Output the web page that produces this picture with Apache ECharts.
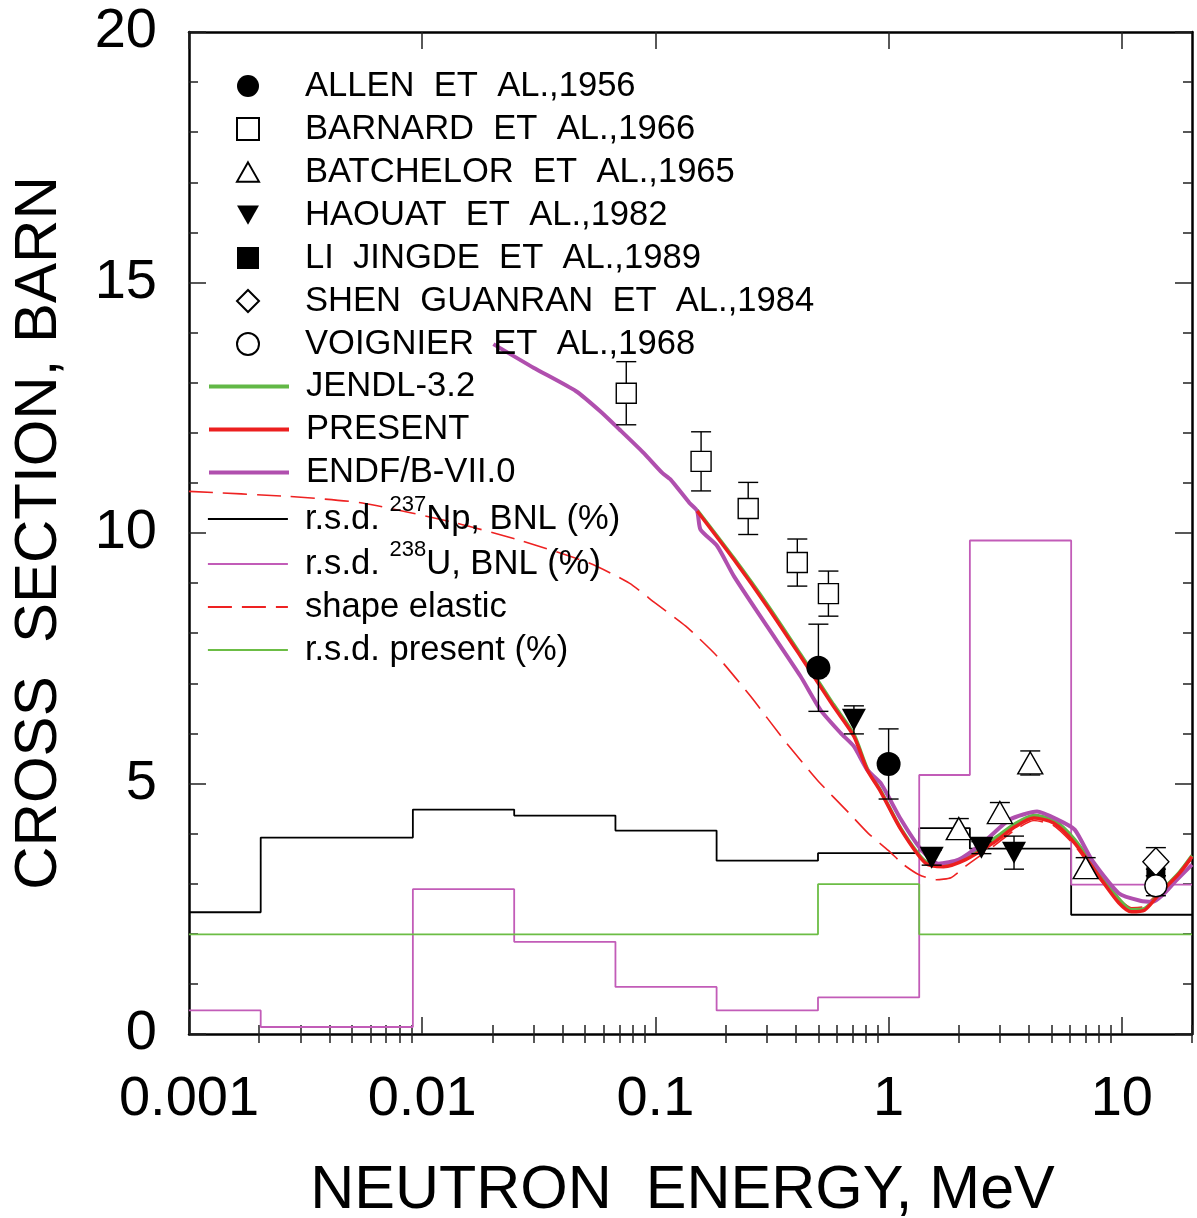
<!DOCTYPE html>
<html><head><meta charset="utf-8">
<script src="https://cdn.jsdelivr.net/npm/echarts@6/dist/echarts.min.js"></script>
<style>html,body{margin:0;padding:0;background:#fff}#c{width:1197px;height:1218px}</style>
</head><body><div id="c"></div>
<script>
// ---------- data ----------
const groupBounds = [0.001, 0.00203, 0.00912, 0.0248, 0.0674, 0.183, 0.498, 1.353, 2.231, 6.065, 20];
const rsdNp      = [2.43, 3.92, 4.48, 4.36, 4.06, 3.46, 3.61, 4.11, 3.70, 2.38];
const rsdU       = [0.47, 0.14, 2.89, 1.84, 0.94, 0.47, 0.73, 5.17, 9.85, 2.98];
const rsdPresent = [1.99, 1.99, 1.99, 1.99, 1.99, 1.99, 2.99, 1.99, 1.99, 1.99];

const endfE = [0.0202, 0.03, 0.0457, 0.058, 0.07, 0.089, 0.107, 0.116, 0.14, 0.151, 0.156, 0.184, 0.217, 0.301, 0.419, 0.51, 0.622, 0.71, 0.81, 0.924, 1.13, 1.38, 1.64, 2.0, 2.53, 3.31, 4.33, 5.3, 6.28, 7.43, 9.7, 12.0, 13.6, 15.0, 17.0, 20];
const endfV = [13.77, 13.3, 12.83, 12.43, 12.07, 11.6, 11.2, 11.07, 10.6, 10.44, 10.07, 9.74, 9.14, 8.14, 7.14, 6.47, 6.01, 5.74, 5.27, 5.01, 4.28, 3.68, 3.40, 3.48, 3.81, 4.28, 4.44, 4.28, 4.08, 3.48, 2.81, 2.66, 2.64, 2.78, 3.05, 3.38];

const presentE = [0.151, 0.217, 0.301, 0.419, 0.58, 0.71, 0.81, 0.924, 1.13, 1.44, 1.72, 2.14, 2.8, 3.5, 4.2, 5.1, 6.28, 8.0, 9.7, 11.0, 12.5, 14.5, 17.6, 20];
const presentV = [10.44, 9.47, 8.54, 7.54, 6.54, 5.94, 5.27, 4.84, 4.08, 3.41, 3.34, 3.48, 3.81, 4.14, 4.31, 4.21, 3.81, 3.14, 2.62, 2.44, 2.47, 2.8, 3.2, 3.54];

const jendlE = [0.151, 0.217, 0.301, 0.419, 0.58, 0.71, 0.81, 0.924, 1.13, 1.44, 1.72, 2.14, 2.8, 3.5, 4.2, 5.1, 6.28, 8.0, 9.7, 11.0, 12.5, 14.5, 17.6, 20];
const jendlV = [10.46, 9.5, 8.58, 7.58, 6.58, 5.98, 5.3, 4.86, 4.1, 3.44, 3.38, 3.53, 3.88, 4.2, 4.36, 4.27, 3.88, 3.2, 2.7, 2.48, 2.5, 2.82, 3.22, 3.56];

const shapeE = [0.001, 0.00268, 0.00554, 0.01396, 0.0269, 0.052, 0.0773, 0.1, 0.135, 0.184, 0.256, 0.356, 0.494, 0.68, 0.82, 1.0, 1.16, 1.35, 1.6, 1.85, 2.14, 2.8, 3.5, 4.2, 5.1, 6.28, 8.0, 9.7, 11.0, 12.5, 14.5, 17.6, 20];
const shapeV = [10.83, 10.73, 10.6, 10.2, 9.84, 9.4, 9.0, 8.6, 8.14, 7.54, 6.74, 5.87, 5.07, 4.4, 4.0, 3.66, 3.38, 3.18, 3.08, 3.12, 3.35, 3.74, 4.08, 4.26, 4.16, 3.76, 3.1, 2.7, 2.52, 2.55, 2.85, 3.2, 3.5];

const allenE = [0.5, 1.0];            const allenV = [7.31, 5.39];            const allenErr = [0.87, 0.70];
const barnardE = [0.075, 0.157, 0.25, 0.406, 0.552];
const barnardV = [12.79, 11.43, 10.49, 9.41, 8.79];
const barnardErr = [0.63, 0.59, 0.52, 0.47, 0.45];
const batchelorE = [2.0, 3.0, 4.05, 7.0];  const batchelorV = [4.1, 4.42, 5.41, 3.32];  const batchelorErr = [0.2, 0.2, 0.24, 0.2];
const haouatE = [0.71, 1.53, 2.5, 3.45];   const haouatV = [6.27, 3.52, 3.72, 3.62];   const haouatErr = [0.28, 0.15, 0.12, 0.33];
const liE = [14.0];   const liV = [3.14];   const liErr = [0.15];
const shenE = [14.0]; const shenV = [3.44]; const shenErr = [0.28];
const voigE = [14.0]; const voigV = [2.96]; const voigErr = [0.2];

const majorTicks = [0.001, 0.01, 0.1, 1, 10];
const majorLabels = ['0.001', '0.01', '0.1', '1', '10'];
const minorTicks = [];
[0.001, 0.01, 0.1, 1, 10].forEach(d => { for (let m = 2; m <= 9; m++) { const v = +(m * d).toPrecision(6); if (v <= 20) minorTicks.push(v); } });

const NAME_NP = 'r.s.d. 237Np, BNL (%)';
const NAME_U = 'r.s.d. 238U, BNL (%)';
const N_ALLEN = 'ALLEN  ET  AL.,1956', N_BARN = 'BARNARD  ET  AL.,1966', N_BATCH = 'BATCHELOR  ET  AL.,1965',
      N_HAOU = 'HAOUAT  ET  AL.,1982', N_LI = 'LI  JINGDE  ET  AL.,1989', N_SHEN = 'SHEN  GUANRAN  ET  AL.,1984',
      N_VOIG = 'VOIGNIER  ET  AL.,1968';

// ---------- helpers ----------
const zip = (xs, ys) => xs.map((x, i) => [x, ys[i]]);
const stepData = vals => groupBounds.map((b, i) => [b, vals[Math.min(i, vals.length - 1)]]);
const FONT = '"Liberation Sans", Arial, Helvetica, sans-serif';

const errData = [];
[[allenE, allenV, allenErr], [barnardE, barnardV, barnardErr], [batchelorE, batchelorV, batchelorErr],
 [haouatE, haouatV, haouatErr], [liE, liV, liErr], [shenE, shenV, shenErr], [voigE, voigV, voigErr]]
 .forEach(([e, v, er]) => e.forEach((x, i) => errData.push([x, v[i] - er[i], v[i] + er[i]])));

const chart = echarts.init(document.getElementById('c'), null, { renderer: 'canvas' });

const tickStyle = { color: '#222', width: 1.5 };
const frameLine = { show: true, onZero: false, lineStyle: { color: '#000', width: 2.5 } };

function xAx(pos, major, withLabels) {
  const ax = {
    type: 'log', logBase: 10, min: 0.001, max: 20, position: pos, gridIndex: 0,
    axisLine: major ? frameLine : { show: false },
    axisTick: { show: true, inside: true, length: major ? 17 : 9, lineStyle: tickStyle, customValues: major ? majorTicks : minorTicks },
    axisLabel: { show: false },
    splitLine: { show: false }, minorTick: { show: false }
  };
  if (withLabels) {
    ax.axisLabel = {
      show: true, customValues: majorTicks, fontSize: 56, color: '#000', fontFamily: FONT, margin: 38,
      formatter: v => { const k = Math.round(Math.log10(v)); return majorLabels[k + 3] || ''; }
    };
    ax.name = 'NEUTRON  ENERGY, MeV';
    ax.nameLocation = 'middle';
    ax.nameGap = 127;
    ax.nameTextStyle = { fontSize: 61, color: '#000', fontFamily: FONT, padding: [0, 16, 0, 0] };
  }
  return ax;
}
function yAx(pos, withLabels) {
  const ax = {
    type: 'value', min: 0, max: 20, interval: 5, position: pos, gridIndex: 0,
    axisLine: frameLine,
    axisTick: { show: true, inside: true, length: 17, lineStyle: tickStyle },
    minorTick: { show: true, splitNumber: 5, length: 9, lineStyle: tickStyle },
    axisLabel: { show: withLabels, fontSize: 56, color: '#000', fontFamily: FONT, margin: 32 },
    splitLine: { show: false }
  };
  if (withLabels) {
    ax.name = 'CROSS  SECTION, BARN';
    ax.nameLocation = 'middle';
    ax.nameGap = 120;
    ax.nameRotate = 90;
    ax.nameTextStyle = { fontSize: 60, color: '#000', fontFamily: FONT };
  }
  return ax;
}

function scat(name, e, v, symbol, size, fill, rotate) {
  return {
    name, type: 'scatter', data: zip(e, v), symbol, symbolSize: size, symbolRotate: rotate || 0,
    itemStyle: { color: fill, borderColor: '#000', borderWidth: fill === '#fff' ? 1.4 : 0, opacity: 1 },
    z: 5, silent: true
  };
}
function line(name, data, color, width, extra) {
  return Object.assign({
    name, type: 'line', data, symbol: 'none', showSymbol: false, color,
    lineStyle: { color, width }, z: 3, silent: true, animation: false
  }, extra || {});
}

const legendText = (pad) => ({
  fontSize: 34.6, color: '#000', fontFamily: FONT, lineHeight: 35, padding: [0, 0, 0, pad],
  rich: { sup: { fontSize: 22, lineHeight: 10, padding: [-14, 0, 14, 0], fontFamily: FONT, color: '#000' },
          t: { fontSize: 34.6, lineHeight: 38, fontFamily: FONT, color: '#000' } }
});
const legLine = (name, color, width, type) => ({
  name, itemStyle: { opacity: 0, borderWidth: 0 },
  lineStyle: { color, width, type: type || 'solid', opacity: 1 }
});
const supFormatter = n => {
  if (n === NAME_NP) return '{t|r.s.d. }{sup|237}{t|Np, BNL (%)}';
  if (n === NAME_U) return '{t|r.s.d. }{sup|238}{t|U, BNL (%)}';
  return n;
};
const lineLegend = (data, top, gap) => ({
  data, orient: 'vertical', left: 207, top, padding: 0, itemWidth: 80, itemHeight: 22, itemGap: gap,
  selectedMode: false, textStyle: legendText(12), formatter: supFormatter
});

const option = {
  animation: false,
  backgroundColor: '#fff',
  textStyle: { fontFamily: FONT },
  grid: { left: 189, right: 5, top: 32, bottom: 184, containLabel: false, outerBoundsMode: 'none' },
  xAxis: [xAx('bottom', true, true), xAx('bottom', false, false), xAx('top', true, false), xAx('top', false, false)],
  yAxis: [yAx('left', true), yAx('right', false)],
  legend: [
    {
      data: [
        { name: N_ALLEN, icon: 'circle' },
        { name: N_BARN, icon: 'path://M0,0L20,0L20,20L0,20Z' },
        { name: N_BATCH, icon: 'path://M12,0L24,21L0,21Z' },
        { name: N_HAOU, icon: 'path://M0,0L24,0L12,21Z' },
        { name: N_LI, icon: 'path://M0,0L20,0L20,20L0,20Z' },
        { name: N_SHEN, icon: 'diamond' },
        { name: N_VOIG, icon: 'circle' }
      ],
      orient: 'vertical', left: 236, top: 68.5, padding: 0, itemWidth: 22, itemHeight: 22, itemGap: 8,
      selectedMode: false, textStyle: legendText(41)
    },
    lineLegend([legLine('JENDL-3.2', '#62b846', 4), legLine('PRESENT', '#ec1f1f', 4), legLine('ENDF/B-VII.0', '#b04fae', 4)], 369, 8),
    lineLegend([legLine(NAME_NP, '#000000', 1.8), legLine(NAME_U, '#c25cb8', 1.8)], 494, 1),
    lineLegend([legLine('shape elastic', '#ee2222', 1.8, [24, 10]), legLine('r.s.d. present (%)', '#6cbd45', 1.8)], 589.5, 8)
  ],
  series: [
    line(NAME_NP, stepData(rsdNp), '#000000', 1.8, { step: 'end' }),
    line(NAME_U, stepData(rsdU), '#c25cb8', 1.8, { step: 'end' }),
    line('r.s.d. present (%)', stepData(rsdPresent), '#6cbd45', 1.8, { step: 'end' }),
    line('shape elastic', zip(shapeE, shapeV), '#ee2222', 1.6, { smooth: 0.2, lineStyle: { color: '#ee2222', width: 1.6, type: [24, 10] } }),
    line('JENDL-3.2', zip(jendlE, jendlV), '#62b846', 3.5, { smooth: 0.25 }),
    line('ENDF/B-VII.0', zip(endfE, endfV), '#b04fae', 4, { smooth: 0.2 }),
    line('PRESENT', zip(presentE, presentV), '#ec1f1f', 3.5, { smooth: 0.25 }),
    {
      type: 'custom', name: 'err', data: errData, z: 4, silent: true,
      renderItem: (params, api) => {
        const x = api.value(0);
        const lo = api.coord([x, api.value(1)]);
        const hi = api.coord([x, api.value(2)]);
        const w = 10;
        const st = { stroke: '#000', lineWidth: 1.4 };
        return { type: 'group', children: [
          { type: 'line', shape: { x1: lo[0], y1: lo[1], x2: hi[0], y2: hi[1] }, style: st },
          { type: 'line', shape: { x1: lo[0] - w, y1: lo[1], x2: lo[0] + w, y2: lo[1] }, style: st },
          { type: 'line', shape: { x1: hi[0] - w, y1: hi[1], x2: hi[0] + w, y2: hi[1] }, style: st }
        ]};
      }
    },
    scat(N_ALLEN, allenE, allenV, 'circle', 24, '#000'),
    scat(N_BARN, barnardE, barnardV, 'rect', 20, '#fff'),
    scat(N_BATCH, batchelorE, batchelorV, 'triangle', [25, 22], '#fff'),
    scat(N_HAOU, haouatE, haouatV, 'triangle', [24, 22], '#000', 180),
    scat(N_LI, liE, liV, 'rect', 19, '#000'),
    scat(N_SHEN, shenE, shenV, 'diamond', [26, 28], '#fff'),
    scat(N_VOIG, voigE, voigV, 'circle', 22, '#fff')
  ]
};
chart.setOption(option);
</script></body></html>
